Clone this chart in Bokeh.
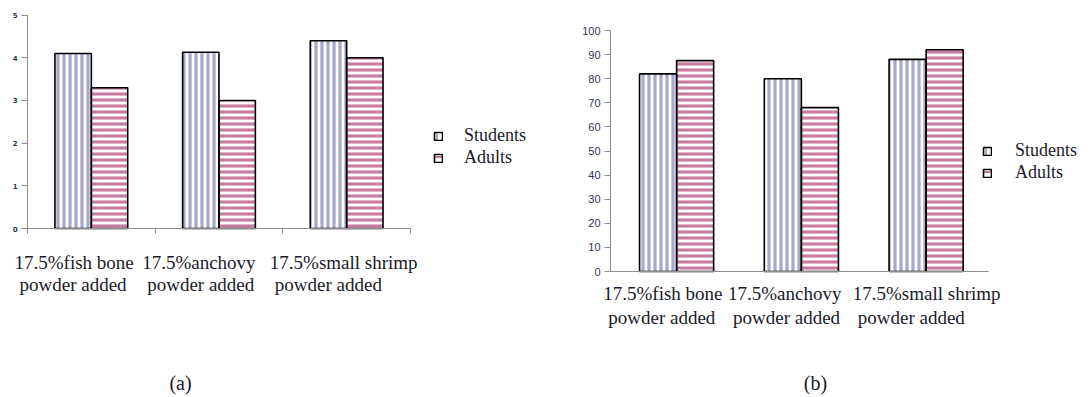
from bokeh.plotting import figure
from bokeh.models import (Range1d, FixedTicker, Label, Legend, LegendItem, ColumnDataSource)
from bokeh.layouts import row
from bokeh.embed import file_html
from bokeh.resources import INLINE

# ---------------- data ----------------
cat_line1 = ["17.5%fish bone", "17.5%anchovy", "17.5%small shrimp"]
cat_line2 = ["powder added", "powder added", "powder added"]
series_names = ["Students", "Adults"]

students_a = [4.1, 4.13, 4.4]
adults_a = [3.3, 3.0, 4.0]
yticks_a = [0, 1, 2, 3, 4, 5]

students_b = [82, 80, 88]
adults_b = [87.5, 68, 92]
yticks_b = [0, 10, 20, 30, 40, 50, 60, 70, 80, 90, 100]

captions = ["(a)", "(b)"]

SERIF = "Liberation Serif"
TXT = "#1a1a2a"
STU_HATCH = "#7a7aae"
STU_LIGHT = "#c8c8e4"
ADU_HATCH = "#a8336e"
ADU_LIGHT = "#e2b4cc"

FRAME_H = 393
TOP = 4


def make_chart(stu, adu, yticks, yr, ybounds, yloc, xr, xbounds, bw, fw,
               ytick_font, ytick_size, ytick_bold, xminor,
               leg_loc, leg_standoff, lab_y, lab_off, cap, cap_xy):
    p = figure(output_backend="svg", toolbar_location=None,
               frame_width=fw, frame_height=FRAME_H,
               min_border_left=0, min_border_right=0,
               min_border_top=TOP, min_border_bottom=0,
               x_range=Range1d(*xr), y_range=Range1d(*yr))
    p.outline_line_color = None
    p.xgrid.visible = False
    p.ygrid.visible = False
    p.background_fill_color = "white"
    p.border_fill_color = "white"

    idx = list(range(len(stu)))
    src = ColumnDataSource(dict(
        xs=[i + 0.5 - bw / 2 for i in idx],
        xa=[i + 0.5 + bw / 2 for i in idx],
        stu=stu, adu=adu))

    # light underlying stripes
    p.vbar(x="xs", top="stu", width=bw, source=src, fill_color="white",
           line_color=None, hatch_pattern="|", hatch_color=STU_LIGHT,
           hatch_scale=3, hatch_weight=1)
    p.vbar(x="xa", top="adu", width=bw, source=src, fill_color="white",
           line_color=None, hatch_pattern="-", hatch_color=ADU_LIGHT,
           hatch_scale=3, hatch_weight=1)
    rs = p.vbar(x="xs", top="stu", width=bw, source=src, fill_alpha=0,
                line_color="black", line_width=1.6, hatch_pattern="|",
                hatch_color=STU_HATCH, hatch_scale=6, hatch_weight=1.3)
    ra = p.vbar(x="xa", top="adu", width=bw, source=src, fill_alpha=0,
                line_color="black", line_width=1.6, hatch_pattern="-",
                hatch_color=ADU_HATCH, hatch_scale=6, hatch_weight=1.3)

    # axes
    yax = p.yaxis[0]
    yax.ticker = FixedTicker(ticks=yticks)
    yax.bounds = ybounds
    yax.fixed_location = yloc
    yax.axis_line_color = "#8c8c8c"
    yax.major_tick_line_color = "#8c8c8c"
    yax.major_tick_out = 6
    yax.major_tick_in = 0
    yax.minor_tick_line_color = None
    yax.major_label_text_font = ytick_font
    yax.major_label_text_font_size = ytick_size
    yax.major_label_text_font_style = "bold" if ytick_bold else "normal"
    yax.major_label_text_color = "#333355"
    yax.major_label_standoff = 4

    xax = p.xaxis[0]
    xax.ticker = FixedTicker(ticks=[], minor_ticks=xminor)
    xax.bounds = xbounds
    xax.fixed_location = 0
    xax.axis_line_color = "#8c8c8c"
    xax.axis_line_width = 1.2
    xax.major_tick_line_color = None
    xax.minor_tick_line_color = "#8c8c8c"
    xax.minor_tick_out = 5
    xax.minor_tick_in = 0

    # category labels (two lines)
    for i, (l1, l2) in enumerate(zip(cat_line1, cat_line2)):
        p.add_layout(Label(x=i, y=lab_y[0], x_units="data", y_units="screen",
                           x_offset=lab_off[0], text=l1, text_font=SERIF,
                           text_font_size="19px", text_color=TXT,
                           text_align="left", text_baseline="middle"))
        p.add_layout(Label(x=i, y=lab_y[1], x_units="data", y_units="screen",
                           x_offset=lab_off[1], text=l2, text_font=SERIF,
                           text_font_size="19px", text_color=TXT,
                           text_align="left", text_baseline="middle"))

    legend = Legend(items=[LegendItem(label=series_names[0], renderers=[rs]),
                           LegendItem(label=series_names[1], renderers=[ra])],
                    location=leg_loc, orientation="vertical",
                    glyph_width=10, glyph_height=10, label_height=20,
                    spacing=1, padding=0, margin=0,
                    label_standoff=leg_standoff,
                    label_text_font=SERIF, label_text_font_size="18px",
                    label_text_color=TXT,
                    border_line_color=None, background_fill_alpha=0)
    p.add_layout(legend, "center")

    p.add_layout(Label(x=cap_xy[0], y=cap_xy[1], x_units="screen",
                       y_units="screen", text=cap, text_font=SERIF,
                       text_font_size="20px", text_color=TXT,
                       text_align="center", text_baseline="middle"))
    return p


p1 = make_chart(students_a, adults_a, yticks_a, (-3.9606, 5.2496), (0, 5), 0,
                (-0.2115, 4.136), (0, 3), 0.285, fw=555,
                ytick_font="DejaVu Sans", ytick_size="7px", ytick_bold=True,
                xminor=[0, 1, 2, 3], leg_loc=(433, 229), leg_standoff=21,
                lab_y=(135, 113), lab_off=(-13, -8),
                cap=captions[0], cap_xy=(180, 15))

p2 = make_chart(students_b, adults_b, yticks_b, (-52.28, 110.79), (0, 100), -0.03,
                (-0.4709, 3.8017), (-0.03, 3.0), 0.297, fw=533,
                ytick_font="Liberation Sans", ytick_size="11px", ytick_bold=False,
                xminor=[], leg_loc=(427, 214), leg_standoff=23,
                lab_y=(104, 80), lab_off=(-11, -6),
                cap=captions[1], cap_xy=(260, 15))

layout = row(p1, p2, spacing=0)
open("out.html", "w").write(file_html(layout, INLINE))
